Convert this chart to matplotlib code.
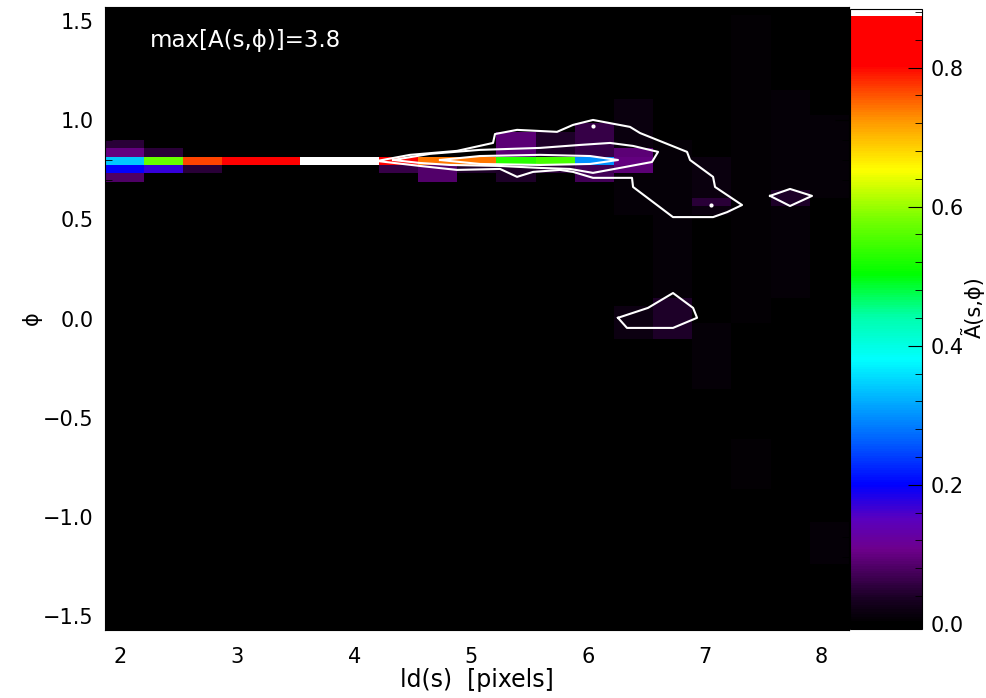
import numpy as np
import matplotlib.pyplot as plt
from matplotlib.colors import LinearSegmentedColormap, Normalize
from matplotlib.ticker import MultipleLocator

plt.rcParams['font.family'] = ['DejaVu Sans']
plt.rcParams['font.size'] = 15

# ld(s) columns and phi rows of the A(s,phi) map
ld_min, ld_max, n_ld = 1.863, 8.237, 19
n_phi = 75
amp_max = 3.8
cbar_top = 0.884

# bright row near phi = pi/4, columns 0..13
streak_row = 56
streak_vals = [0.34, 0.57, 0.77, 0.84, 0.84, 0.884, 0.884, 0.84, 0.74, 0.74, 0.53, 0.55, 0.30, 0.10]

# weaker blocks: column, first row, last row, value
blk_col = [0, 0, 0, 0, 1, 1, 2, 7, 8, 9, 10, 10, 11, 11, 12, 12, 13, 13, 13, 14, 14, 13, 15, 15, 15, 16, 17, 17, 18, 18, 16]
blk_r0 = [58, 57, 55, 54, 57, 55, 55, 55, 54, 55, 57, 54, 57, 55, 57, 54, 58, 50, 55, 40, 35, 35, 50, 51, 29, 37, 40, 51, 52, 8, 17]
blk_r1 = [58, 57, 55, 54, 57, 55, 55, 55, 55, 55, 59, 55, 59, 55, 60, 55, 63, 54, 57, 58, 39, 38, 56, 51, 36, 73, 64, 52, 61, 12, 22]
blk_val = [0.05, 0.10, 0.20, 0.08, 0.05, 0.17, 0.05, 0.06, 0.085, 0.04, 0.09, 0.04, 0.04, 0.05, 0.06, 0.07,
           0.014, 0.01, 0.09, 0.01, 0.04, 0.02, 0.015, 0.05, 0.01, 0.006, 0.01, 0.04, 0.008, 0.01, 0.005]

# contour lines (ld, phi)
outer_ld = [4.196, 4.479, 4.881, 5.189, 5.206, 5.395, 5.737, 5.874, 6.045, 6.362, 6.448, 6.850, 6.876, 7.073,
            7.090, 7.321, 7.193, 7.073, 6.730, 6.388, 6.379, 6.045, 5.874, 5.763, 5.532, 5.395, 5.249, 4.881, 4.564]
outer_phi = [0.795, 0.826, 0.846, 0.886, 0.931, 0.952, 0.942, 0.977, 1.002, 0.967, 0.936, 0.841, 0.800, 0.715,
             0.664, 0.573, 0.537, 0.512, 0.512, 0.664, 0.710, 0.710, 0.740, 0.750, 0.740, 0.715, 0.755, 0.750, 0.770]
mid_ld = [4.333, 4.650, 5.077, 5.592, 5.934, 6.191, 6.388, 6.602, 6.550, 6.276, 6.045, 5.848, 5.592, 5.249, 4.821, 4.564]
mid_phi = [0.800, 0.831, 0.851, 0.861, 0.876, 0.886, 0.871, 0.841, 0.790, 0.760, 0.735, 0.755, 0.760, 0.770, 0.775, 0.785]
inner_ld = [4.735, 5.077, 5.592, 6.020, 6.259, 6.020, 5.592, 5.077]
inner_phi = [0.800, 0.820, 0.826, 0.820, 0.800, 0.780, 0.775, 0.780]
low_ld = [6.259, 6.516, 6.730, 6.902, 6.936, 6.730, 6.336]
low_phi = [0.004, 0.054, 0.129, 0.054, 0.004, -0.047, -0.047]
diam_ld = [7.561, 7.732, 7.920, 7.732]
diam_phi = [0.619, 0.654, 0.619, 0.568]
dot_ld = [6.045, 7.056]
dot_phi = [0.972, 0.573]

# IDL-like rainbow + white table
cmap = LinearSegmentedColormap.from_list('rainbow_white', [
    (0.0, (0, 0, 0)), (0.04, (0.10, 0, 0.14)), (0.12, (0.43, 0, 0.55)), (0.17, (0.35, 0, 0.75)),
    (0.225, (0, 0, 1)), (0.30, (0, 0.39, 1)), (0.36, (0, 0.67, 1)), (0.43, (0, 1, 1)),
    (0.50, (0, 1, 0.67)), (0.57, (0, 1, 0)), (0.66, (0.47, 1, 0)), (0.74, (1, 1, 0)),
    (0.82, (1, 0.59, 0)), (0.87, (1, 0.27, 0)), (0.91, (1, 0, 0)), (0.99, (1, 0, 0)),
    (0.992, (1, 1, 1)), (1.0, (1, 1, 1))], N=256)
norm = Normalize(0, cbar_top)

amap = np.zeros((n_phi, n_ld))
for c, r0, r1, v in zip(blk_col, blk_r0, blk_r1, blk_val):
    amap[r0:r1 + 1, c] = v
amap[streak_row, :len(streak_vals)] = streak_vals

ld_edges = np.linspace(ld_min, ld_max, n_ld + 1)
phi_edges = np.linspace(-np.pi / 2, np.pi / 2, n_phi + 1)

fig = plt.figure(figsize=(9.87, 6.98), dpi=100)
ax = fig.add_axes([0.1059, 0.0974, 0.7543, 0.8923])
mesh = ax.pcolormesh(ld_edges, phi_edges, amap, cmap=cmap, norm=norm)

for xs, ys in [(outer_ld, outer_phi), (mid_ld, mid_phi), (inner_ld, inner_phi),
               (low_ld, low_phi), (diam_ld, diam_phi)]:
    ax.plot(xs + xs[:1], ys + ys[:1], color='white', lw=1.5)
ax.plot(dot_ld, dot_phi, 'o', color='white', ms=3, mec='none')

ax.set_xlim(ld_min, ld_max)
ax.set_ylim(-np.pi / 2, np.pi / 2)
ax.xaxis.set_major_locator(MultipleLocator(1))
ax.xaxis.set_minor_locator(MultipleLocator(0.2))
ax.yaxis.set_major_locator(MultipleLocator(0.5))
ax.yaxis.set_minor_locator(MultipleLocator(0.1))
ax.tick_params(which='both', direction='in', color='black', top=True, right=True)
ax.tick_params(which='major', length=10, pad=12)
ax.tick_params(which='minor', length=5)
ax.tick_params(axis='y', which='major', pad=8)

ax.set_xlabel('ld(s)  [pixels]', fontsize=17)
ax.xaxis.set_label_coords(0.5, -0.061)
ax.set_ylabel('ϕ')
ax.yaxis.set_label_coords(-0.084, 0.5)

ax.text(0.061, 0.947, f'max[A(s,ϕ)]={amp_max:.1f}', transform=ax.transAxes,
        color='white', va='center', fontsize=16.5)

cax = fig.add_axes([0.8612, 0.0984, 0.0729, 0.8883])
cb = fig.colorbar(mesh, cax=cax)
cax.set_facecolor('black')
cax.set_ylim(-0.008, cbar_top)
cb.outline.set_edgecolor('black')
cax.yaxis.set_major_locator(MultipleLocator(0.2))
cax.yaxis.set_minor_locator(MultipleLocator(0.04))
cax.yaxis.set_major_formatter('{x:.1f}')
cax.tick_params(which='both', direction='in', color='black')
cax.tick_params(which='major', length=10, pad=6)
cax.tick_params(which='minor', length=5)

fig.text(0.986, 0.56, 'Ã(s,ϕ)', rotation=90, ha='center', va='center')

fig.savefig('out.png', dpi=100)
